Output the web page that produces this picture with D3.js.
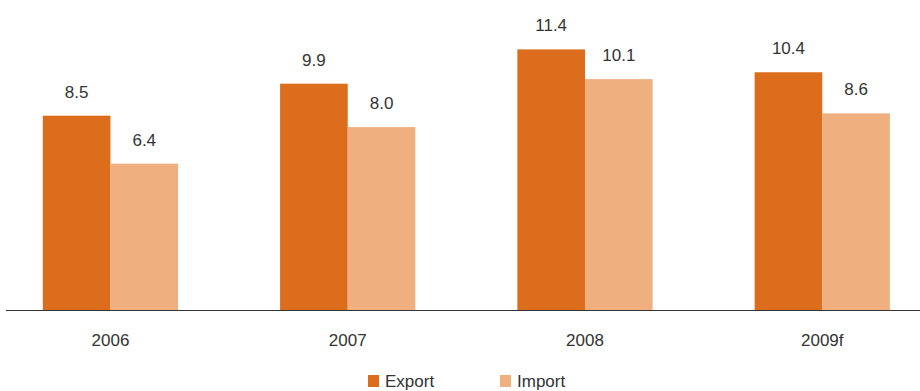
<!DOCTYPE html>
<html><head><meta charset="utf-8">
<script src="https://cdn.jsdelivr.net/npm/d3@7"></script>
<style>body{margin:0;background:#fff}svg{display:block}text{font-family:"Liberation Sans",Arial,sans-serif;fill:#333}</style>
</head><body>
<svg id="c" width="920" height="391"></svg>
<script>
const categories = ["2006", "2007", "2008", "2009f"];
const seriesNames = ["Export", "Import"];
const exportValues = [8.5, 9.9, 11.4, 10.4];
const importValues = [6.4, 8.0, 10.1, 8.6];
const colors = ["#DC6D1C", "#EFAF7E"];

const svg = d3.select("#c");
const baseY = 310;
const y = d3.scaleLinear().domain([0, 14]).range([baseY, baseY - 14 * 22.86]);
const x = d3.scaleBand().domain(categories).range([-8.2, 940.9]).paddingInner(0.43).paddingOuter(0.215);
const xs = d3.scaleBand().domain(seriesNames).range([0, x.bandwidth()]);

const data = categories.map((c, i) => ({cat: c, vals: [exportValues[i], importValues[i]]}));

const g = svg.append("g");
data.forEach(d => {
  d.vals.forEach((v, j) => {
    const bx = x(d.cat) + xs(seriesNames[j]);
    g.append("rect").attr("x", bx).attr("y", y(v)).attr("width", xs.bandwidth()).attr("height", baseY - y(v)).attr("fill", colors[j]);
    g.append("text").attr("x", bx + xs.bandwidth() / 2).attr("y", y(v) - 18).attr("text-anchor", "middle").attr("font-size", 17).text(v.toFixed(1));
  });
});

// axis
const axis = d3.axisBottom(x).tickSize(0).tickPadding(24);
const ag = svg.append("g").attr("transform", `translate(0,${baseY})`).call(axis);
ag.select(".domain").remove();
ag.selectAll("text").attr("font-size", 17).style("fill", "#333").style("font-family", '"Liberation Sans",Arial,sans-serif');
svg.append("line").attr("x1", 6).attr("x2", 920).attr("y1", baseY + 0.5).attr("y2", baseY + 0.5).attr("stroke", "#333").attr("stroke-width", 1.2);

// legend
const legX = [368, 500];
seriesNames.forEach((s, j) => {
  svg.append("rect").attr("x", legX[j]).attr("y", 375).attr("width", 11).attr("height", 12).attr("fill", colors[j]);
  svg.append("text").attr("x", legX[j] + 17).attr("y", 387).attr("font-size", 17).text(s);
});
</script>
</body></html>
